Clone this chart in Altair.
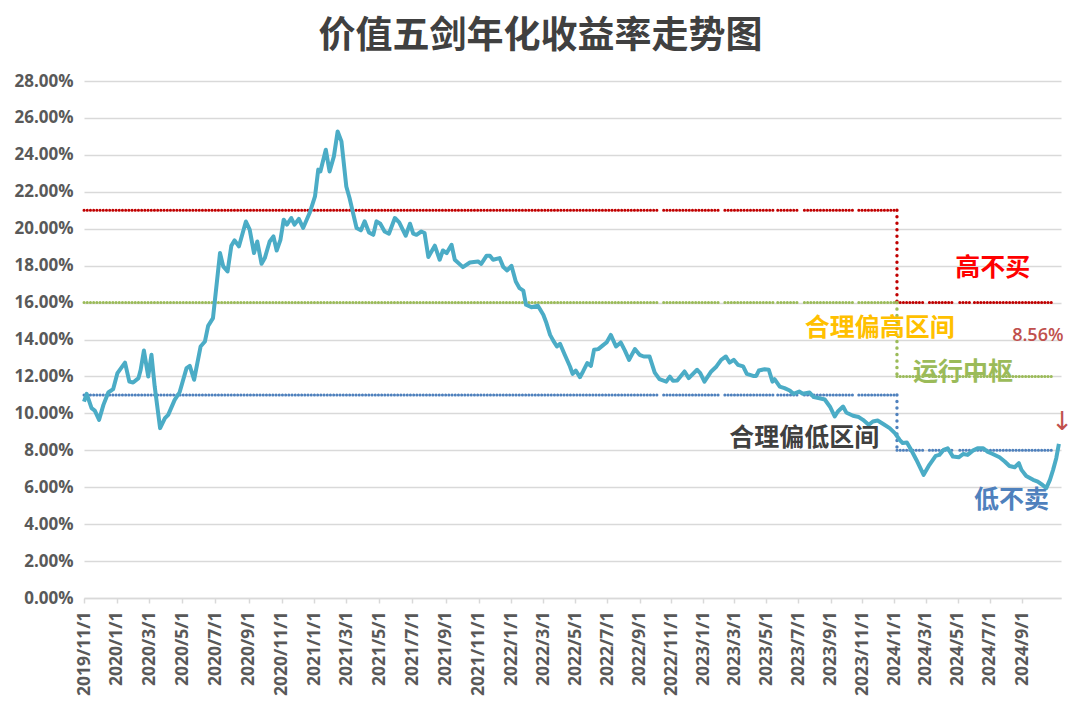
import altair as alt
import pandas as pd

title_text = "价值五剑年化收益率走势图"

dates = [
    "2019/11/01", "2019/11/06", "2019/11/15", "2019/11/21", "2019/11/29", "2019/12/07", "2019/12/16", "2019/12/25",
    "2020/01/02", "2020/01/16", "2020/01/24", "2020/01/31", "2020/02/10", "2020/02/14", "2020/02/20", "2020/02/28",
    "2020/03/05", "2020/03/11", "2020/03/21", "2020/03/30", "2020/04/05", "2020/04/17", "2020/04/26", "2020/05/09",
    "2020/05/15", "2020/05/23", "2020/06/04", "2020/06/12", "2020/06/18", "2020/06/27", "2020/07/10", "2020/07/16",
    "2020/07/24", "2020/07/31", "2020/08/06", "2020/08/14", "2020/08/27", "2020/09/03", "2020/09/11", "2020/09/17",
    "2020/09/25", "2020/10/01", "2020/10/10", "2020/10/17", "2020/10/23", "2020/10/30", "2020/11/05", "2020/11/11",
    "2020/11/19", "2020/11/25", "2020/12/03", "2020/12/11", "2020/12/23", "2021/01/02", "2021/01/08", "2021/01/12",
    "2021/01/22", "2021/01/29", "2021/02/06", "2021/02/13", "2021/02/20", "2021/03/01", "2021/03/07", "2021/03/20",
    "2021/03/28", "2021/04/04", "2021/04/12", "2021/04/20", "2021/04/26", "2021/05/03", "2021/05/11", "2021/05/19",
    "2021/05/30", "2021/06/07", "2021/06/19", "2021/06/27", "2021/07/03", "2021/07/09", "2021/07/18", "2021/07/24",
    "2021/07/31", "2021/08/12", "2021/08/21", "2021/08/27", "2021/09/03", "2021/09/12", "2021/09/18", "2021/10/03",
    "2021/10/16", "2021/10/31", "2021/11/06", "2021/11/16", "2021/11/22", "2021/11/28", "2021/12/10", "2021/12/17",
    "2021/12/24", "2022/01/01", "2022/01/09", "2022/01/16", "2022/01/23", "2022/01/28", "2022/02/07", "2022/02/19",
    "2022/03/01", "2022/03/07", "2022/03/14", "2022/03/20", "2022/03/27", "2022/04/02", "2022/04/11", "2022/04/21",
    "2022/04/26", "2022/05/02", "2022/05/10", "2022/05/16", "2022/05/24", "2022/05/31", "2022/06/06", "2022/06/14",
    "2022/06/24", "2022/06/30", "2022/07/08", "2022/07/18", "2022/07/27", "2022/08/04", "2022/08/12", "2022/08/23",
    "2022/09/01", "2022/09/09", "2022/09/20", "2022/09/30", "2022/10/09", "2022/10/22", "2022/10/29", "2022/11/04",
    "2022/11/12", "2022/11/26", "2022/12/04", "2022/12/20", "2022/12/26", "2023/01/03", "2023/01/16", "2023/01/26",
    "2023/02/04", "2023/02/13", "2023/02/20", "2023/02/28", "2023/03/08", "2023/03/18", "2023/03/25", "2023/04/06",
    "2023/04/12", "2023/04/17", "2023/04/28", "2023/05/06", "2023/05/13", "2023/05/17", "2023/05/27", "2023/06/05",
    "2023/06/15", "2023/06/22", "2023/07/03", "2023/07/10", "2023/07/23", "2023/07/31", "2023/08/11", "2023/08/21",
    "2023/08/31", "2023/09/09", "2023/09/15", "2023/09/25", "2023/10/01", "2023/10/14", "2023/10/25", "2023/11/02",
    "2023/11/13", "2023/11/21", "2023/11/30", "2023/12/13", "2023/12/23", "2024/01/02", "2024/01/11", "2024/01/17",
    "2024/01/25", "2024/02/02", "2024/02/12", "2024/02/26", "2024/03/08", "2024/03/20", "2024/03/27", "2024/04/04",
    "2024/04/12", "2024/04/22", "2024/05/03", "2024/05/12", "2024/05/20", "2024/05/30", "2024/06/08", "2024/06/19",
    "2024/06/27", "2024/07/07", "2024/07/20", "2024/07/30", "2024/08/08", "2024/08/18", "2024/08/26", "2024/08/31",
    "2024/09/09", "2024/09/22", "2024/10/01", "2024/10/10", "2024/10/17", "2024/10/24", "2024/10/30", "2024/11/05",
    "2024/11/10",
]

values = [
    10.64, 11.06, 10.28, 10.15, 9.65, 10.46, 11.13, 11.31,
    12.18, 12.75, 11.72, 11.67, 11.91, 12.36, 13.40, 12.00,
    13.17, 11.45, 9.20, 9.74, 9.92, 10.73, 11.13, 12.45,
    12.57, 11.82, 13.62, 13.89, 14.74, 15.16, 18.68, 17.96,
    17.69, 19.08, 19.37, 19.04, 20.39, 19.95, 18.68, 19.31,
    18.10, 18.41, 19.31, 19.58, 18.82, 19.40, 20.49, 20.22,
    20.58, 20.22, 20.53, 20.04, 20.85, 21.75, 23.20, 23.10,
    24.28, 23.10, 23.92, 25.27, 24.73, 22.29, 21.66, 20.04,
    19.91, 20.40, 19.80, 19.67, 20.40, 20.27, 19.85, 19.73,
    20.58, 20.34, 19.62, 20.27, 19.73, 19.67, 19.85, 19.77,
    18.47, 19.08, 18.32, 18.82, 18.68, 19.13, 18.32, 17.92,
    18.17, 18.23, 18.10, 18.54, 18.54, 18.32, 18.41, 17.92,
    17.74, 17.99, 17.14, 16.78, 16.65, 15.88, 15.75, 15.83,
    15.34, 14.89, 14.25, 13.94, 13.62, 13.77, 13.17, 12.54,
    12.14, 12.32, 11.96, 12.27, 12.72, 12.57, 13.44, 13.48,
    13.71, 13.84, 14.25, 13.62, 13.84, 13.40, 12.90, 13.48,
    13.17, 13.08, 13.08, 12.21, 11.85, 11.72, 11.99, 11.76,
    11.78, 12.27, 11.91, 12.36, 12.18, 11.72, 12.27, 12.54,
    12.90, 13.08, 12.75, 12.90, 12.63, 12.54, 12.14, 12.03,
    12.03, 12.32, 12.39, 12.36, 11.72, 11.85, 11.45, 11.37,
    11.24, 11.06, 11.18, 11.06, 11.13, 10.88, 10.82, 10.75,
    10.36, 9.83, 10.10, 10.37, 10.05, 9.87, 9.80, 9.65,
    9.38, 9.56, 9.61, 9.38, 9.20, 8.93, 8.57, 8.39,
    8.42, 8.03, 7.49, 6.67, 7.21, 7.70, 7.75, 8.02,
    8.11, 7.66, 7.62, 7.80, 7.75, 7.98, 8.11, 8.11,
    7.93, 7.80, 7.62, 7.39, 7.15, 7.08, 7.30, 6.94,
    6.61, 6.40, 6.30, 6.12, 5.95, 6.40, 6.94, 7.57,
    8.35,
]

# valuation bands (dotted reference lines)
band_names = ["高不买线", "运行中枢线", "低不卖线"]
band_colors = ["#C00000", "#9BBB59", "#4F81BD"]
band_before = [21.0, 16.0, 11.0]
band_after = [16.0, 12.0, 8.0]
band_start = "2019/11/01"
band_switch = "2024/01/06"
band_end = "2024/10/31"
band_gaps = [
    ("2022/10/09", "2022/10/17"), ("2023/02/02", "2023/02/11"), ("2023/05/15", "2023/05/23"),
    ("2023/07/04", "2023/07/13"), ("2023/10/13", "2023/10/25"), ("2024/02/27", "2024/03/08"),
    ("2024/04/25", "2024/05/05"), ("2024/05/26", "2024/06/02"),
]

x_ticks = [
    "2019/11/01", "2020/01/01", "2020/03/01", "2020/05/01", "2020/07/01", "2020/09/01",
    "2020/11/01", "2021/01/01", "2021/03/01", "2021/05/01", "2021/07/01", "2021/09/01",
    "2021/11/01", "2022/01/01", "2022/03/01", "2022/05/01", "2022/07/01", "2022/09/01",
    "2022/11/01", "2023/01/01", "2023/03/01", "2023/05/01", "2023/07/01", "2023/09/01",
    "2023/11/01", "2024/01/01", "2024/03/01", "2024/05/01", "2024/07/01", "2024/09/01",
]
y_ticks = [0, 2, 4, 6, 8, 10, 12, 14, 16, 18, 20, 22, 24, 26, 28]

# axis calibration: Excel date axis spacing
x_anchor_dates = ["2019/11/01", "2022/03/01", "2024/09/01", "2024/11/14"]
x_anchor_px = [0, 459.3, 938, 977]

ann_text = ["高不买", "合理偏高区间", "运行中枢", "合理偏低区间", "低不卖"]
ann_dates = ["2024/07/07", "2023/12/04", "2024/05/11", "2023/07/13", "2024/08/12"]
ann_values = [17.87, 14.62, 12.24, 8.67, 5.31]
ann_colors = ["#FF0000", "#FFC000", "#9BBB59", "#404040", "#4F81BD"]

note_text = ["8.56%"]
note_dates = ["2024/10/01"]
note_values = [14.19]
note_colors = ["#C0504D"]

arrow_text = ["↓"]
arrow_dates = ["2024/11/16"]
arrow_values = [9.53]


def ms(s):
    return int(pd.Timestamp(s.replace("/", "-")).value // 10**6)


df = pd.DataFrame({"t": [ms(d) for d in dates], "rate": [v / 100 for v in values]})

rows = []
vrows = []
seg = 0
for name, col, hi, lo in zip(band_names, band_colors, band_before, band_after):
    for t0, t1, lev in [(band_start, band_switch, hi), (band_switch, band_end, lo)]:
        bounds = [t0]
        for g0, g1 in band_gaps:
            if t0 < g0 and g1 < t1:
                bounds += [g0, g1]
        bounds.append(t1)
        for i in range(0, len(bounds), 2):
            rows.append({"t": ms(bounds[i]), "rate": lev / 100, "seg": seg, "color": col})
            rows.append({"t": ms(bounds[i + 1]), "rate": lev / 100, "seg": seg, "color": col})
            seg += 1
    vrows.append({"t": ms(band_switch), "rate": hi / 100, "rate2": lo / 100, "color": col})
df_band = pd.DataFrame(rows)
df_vert = pd.DataFrame(vrows)

df_ann = pd.DataFrame({"t": [ms(d) for d in ann_dates], "rate": [v / 100 for v in ann_values],
                       "text": ann_text, "color": ann_colors})
df_note = pd.DataFrame({"t": [ms(d) for d in note_dates], "rate": [v / 100 for v in note_values],
                        "text": note_text, "color": note_colors})
df_arrow = pd.DataFrame({"t": [ms(d) for d in arrow_dates], "rate": [v / 100 for v in arrow_values],
                         "text": arrow_text})

label_font = "Open Sans"
x_scale = alt.Scale(
    type="linear",
    domain=[ms(d) for d in x_anchor_dates],
    range=x_anchor_px,
    nice=False,
    zero=False,
)
x_axis = alt.Axis(
    values=[ms(t) for t in x_ticks],
    labelExpr="utcFormat(datum.value, '%Y/%-m/%-d')",
    labelAngle=270,
    labelFont=label_font, labelFontSize=17.5, labelFontWeight="bold", labelColor="#595959",
    labelOverlap=False, labelPadding=8, labelBound=False, labelFlush=False,
    tickColor="#D9D9D9", tickSize=5, tickWidth=1.5,
    domainColor="#D9D9D9", domainWidth=1.5, grid=False, title=None,
)
y_scale = alt.Scale(domain=[0, 0.28], nice=False, zero=True)
y_axis = alt.Axis(
    values=[t / 100 for t in y_ticks], format=".2%", labelFont=label_font, labelFontSize=17,
    labelFontWeight="bold", labelColor="#595959", labelPadding=11, domain=False, ticks=False,
    grid=True, gridColor="#D9D9D9", gridWidth=1.5, title=None,
)

X = alt.X("t:Q", scale=x_scale, axis=x_axis)
Y = alt.Y("rate:Q", scale=y_scale, axis=y_axis)

bands = alt.Chart(df_band).mark_line(
    strokeWidth=3, strokeDash=[0.1, 3.1], strokeCap="round"
).encode(x=X, y=Y, detail="seg:N", color=alt.Color("color:N", scale=None))

verts = alt.Chart(df_vert).mark_rule(
    strokeWidth=3.4, strokeDash=[0.1, 6.4], strokeCap="round"
).encode(x=X, y=Y, y2="rate2:Q", color=alt.Color("color:N", scale=None))

line = alt.Chart(df).mark_line(
    color="#4BACC6", strokeWidth=4, strokeJoin="round"
).encode(x=X, y=Y)

ann = alt.Chart(df_ann).mark_text(
    font="Noto Sans CJK SC", fontWeight="bold", fontSize=25, align="center", baseline="middle"
).encode(x=X, y=Y, text="text:N", color=alt.Color("color:N", scale=None))

notes = alt.Chart(df_note).mark_text(
    font="Open Sans", fontWeight=600, fontSize=18, align="center", baseline="middle"
).encode(x=X, y=Y, text="text:N", color=alt.Color("color:N", scale=None))

arrow = alt.Chart(df_arrow).mark_text(
    font="DejaVu Sans", fontWeight="normal", fontSize=26, color="#C0504D",
    align="center", baseline="middle"
).encode(x=X, y=Y, text="text:N")

chart = alt.layer(bands, verts, line, ann, notes, arrow).properties(
    width=977,
    height=517,
    autosize="none",
    padding={"left": 76, "top": 73, "right": 11, "bottom": 117},
    background="white",
    title=alt.TitleParams(
        title_text, font="Noto Sans CJK SC", fontSize=37, fontWeight="bold",
        color="#404040", anchor="middle", offset=16, dx=-32,
    ),
).configure_view(stroke=None)

chart.save("out.html", embed_options={"renderer": "svg", "actions": False})
